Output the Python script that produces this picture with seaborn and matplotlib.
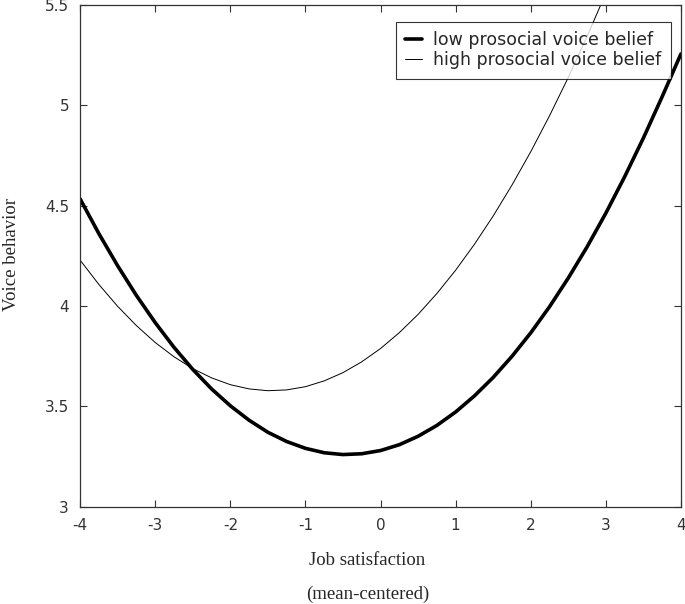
import numpy as np
import pandas as pd
import matplotlib
matplotlib.use('Agg')
import matplotlib.pyplot as plt
import seaborn as sns

# --- Values ---
job_sat = [-4.0, -3.75, -3.5, -3.25, -3.0, -2.75, -2.5, -2.25, -2.0, -1.75, -1.5,
           -1.25, -1.0, -0.75, -0.5, -0.25, 0.0, 0.25, 0.5, 0.75, 1.0, 1.25, 1.5,
           1.75, 2.0, 2.25, 2.5, 2.75, 3.0, 3.25, 3.5, 3.75, 4.0]
low_belief = [4.533, 4.360, 4.200, 4.052, 3.917, 3.794, 3.684, 3.587, 3.503, 3.431,
              3.371, 3.325, 3.291, 3.269, 3.260, 3.264, 3.280, 3.309, 3.351, 3.405,
              3.472, 3.552, 3.644, 3.749, 3.866, 3.996, 4.139, 4.294, 4.462, 4.643,
              4.836, 5.042, 5.255]
high_belief = [4.228, 4.107, 3.998, 3.902, 3.818, 3.747, 3.688, 3.642, 3.608, 3.587,
               3.578, 3.582, 3.598, 3.627, 3.668, 3.722, 3.788, 3.867, 3.958, 4.062,
               4.178, 4.307, 4.448, 4.602, 4.768, 4.947, 5.138, 5.342, 5.558, 5.790,
               6.030, 6.280, 6.540]
x_ticks = [-4, -3, -2, -1, 0, 1, 2, 3, 4]
y_ticks = [3, 3.5, 4, 4.5, 5, 5.5]
y_tick_labels = ["3", "3.5", "4", "4.5", "5", "5.5"]

df = pd.DataFrame({"x": job_sat, "low": low_belief, "high": high_belief})

sns.set_style("ticks")
plt.rcParams['font.family'] = ['DejaVu Sans']

fig = plt.figure(figsize=(6.85, 6.04), dpi=100)
ax = fig.add_axes([0.117, 0.161, 0.877, 0.831])

sns.lineplot(data=df, x="x", y="low", ax=ax, color="black", linewidth=2.6,
             label="low prosocial voice belief")
sns.lineplot(data=df, x="x", y="high", ax=ax, color="black", linewidth=0.7,
             label="high prosocial voice belief")

ax.set_xlim(-4, 4)
ax.set_ylim(3, 5.5)
ax.set_xticks(x_ticks)
ax.set_xticklabels([str(t) for t in x_ticks])
ax.set_yticks(y_ticks)
ax.set_yticklabels(y_tick_labels)
ax.tick_params(direction="in", top=True, right=True, length=5, width=0.8,
               labelsize=11, labelcolor="#333333", color="#333333", pad=8)
for s in ax.spines.values():
    s.set_linewidth(0.9)
    s.set_color("#333333")

# axis titles in a serif face, placed like the reference
ax.set_xlabel("Job satisfaction\n(mean-centered)", family="Liberation Serif",
              fontsize=13.5, linespacing=2.2)
ax.xaxis.set_label_coords(0.478, -0.091, transform=ax.transAxes)
ax.xaxis.label.set_verticalalignment("top")
ax.set_ylabel("Voice behavior", family="Liberation Serif", fontsize=13.5)
ax.yaxis.set_label_coords(-0.1, 0.502, transform=ax.transAxes)

leg = ax.legend(loc="upper right", bbox_to_anchor=(0.983, 0.966), borderaxespad=0,
                frameon=True, fancybox=False, edgecolor="black", fontsize=12.5,
                handlelength=1.0, handletextpad=0.6, borderpad=0.55, labelspacing=0.1)
leg.get_frame().set_linewidth(0.8)

fig.savefig("out.png", dpi=100)
